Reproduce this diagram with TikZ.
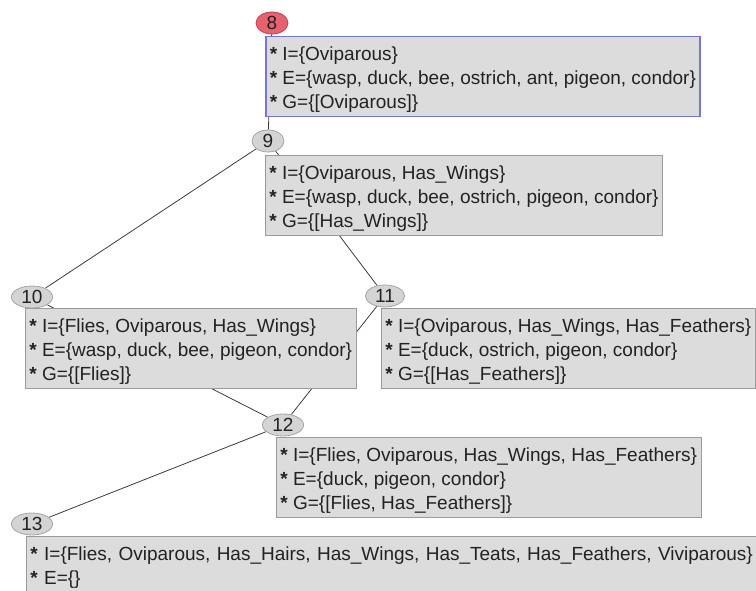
\documentclass[tikz,border=0pt]{standalone}
\usepackage{fontspec}
\setmainfont{Liberation Sans}
\usetikzlibrary{shapes.geometric,backgrounds}
\definecolor{boxfill}{RGB}{220,220,220}
\definecolor{boxline}{RGB}{155,155,155}
\definecolor{topline}{RGB}{118,118,212}
\definecolor{tagfill}{RGB}{212,212,212}
\definecolor{tagline}{RGB}{165,165,165}
\definecolor{topfill}{RGB}{230,98,112}
\definecolor{topdraw}{RGB}{196,62,74}
\definecolor{inkgray}{RGB}{34,34,34}
\definecolor{linkgray}{RGB}{60,60,60}
% struts for the first and last line of an intent box
\newcommand{\upstrut}{\rule{0pt}{24pt}}
\newcommand{\downstrut}{\rule[-8pt]{0pt}{8pt}}
\begin{document}
\begin{tikzpicture}[
    x=1pt, y=-1pt,
    font=\fontsize{19}{24}\selectfont,
    intent/.style={rectangle, draw=boxline, fill=boxfill, line width=0.8pt, anchor=north west, align=left, inner xsep=4pt, inner ysep=0pt, text=inkgray},
    tag/.style={ellipse, draw=tagline, fill=tagfill, line width=0.8pt, inner xsep=4pt, inner ysep=0pt, minimum width=32pt, minimum height=22pt, text=inkgray},
    link/.style={draw=linkgray, line width=0.8pt}
]
    \useasboundingbox (0,0) rectangle (756,591);

    % Concept 8 (selected)
    \node[tag, fill=topfill, draw=topdraw] (tag8) at (272,23) {8};
    \node[intent, draw=topline, line width=1.5pt] (box8) at (265,36) {\upstrut\textbf{*} I=\{Oviparous\}\\\textbf{*} E=\{wasp, duck, bee, ostrich, ant, pigeon, condor\}\\\textbf{*} G=\{[Oviparous]\}\downstrut};

    % Concept 9
    \node[tag] (tag9) at (268,141) {9};
    \node[intent] (box9) at (265,155) {\upstrut\textbf{*} I=\{Oviparous, Has\_Wings\}\\\textbf{*} E=\{wasp, duck, bee, ostrich, pigeon, condor\}\\\textbf{*} G=\{[Has\_Wings]\}\downstrut};

    % Concepts 10 and 11
    \node[tag] (tag10) at (32,297) {10};
    \node[intent] (box10) at (25,308) {\upstrut\textbf{*} I=\{Flies, Oviparous, Has\_Wings\}\\\textbf{*} E=\{wasp, duck, bee, pigeon, condor\}\\\textbf{*} G=\{[Flies]\}\downstrut};
    \node[tag] (tag11) at (385,296) {11};
    \node[intent] (box11) at (381,308) {\upstrut\textbf{*} I=\{Oviparous, Has\_Wings, Has\_Feathers\}\\\textbf{*} E=\{duck, ostrich, pigeon, condor\}\\\textbf{*} G=\{[Has\_Feathers]\}\downstrut};

    % Concept 12
    \node[tag] (tag12) at (283,425) {12};
    \node[intent] (box12) at (276,437) {\upstrut\textbf{*} I=\{Flies, Oviparous, Has\_Wings, Has\_Feathers\}\\\textbf{*} E=\{duck, pigeon, condor\}\\\textbf{*} G=\{[Flies, Has\_Feathers]\}\downstrut};

    % Concept 13 (bottom, runs off the page)
    \node[tag] (tag13) at (32,524) {13};
    \node[intent, text width=760pt] (box13) at (26,536) {\upstrut\textbf{*} I=\{Flies, Oviparous, Has\_Hairs, Has\_Wings, Has\_Teats, Has\_Feathers, Viviparous\}\\\textbf{*} E=\{\}\downstrut};

    % Lattice edges behind the boxes
    \begin{scope}[on background layer]
        \draw[link] (tag8) -- (tag9);
        \draw[link] (tag9) -- (tag10);
        \draw[link] (tag9) -- (tag11);
        \draw[link] (tag10) -- (tag12);
        \draw[link] (tag11) -- (tag12);
        \draw[link] (tag12) -- (tag13);
    \end{scope}
\end{tikzpicture}
\end{document}
